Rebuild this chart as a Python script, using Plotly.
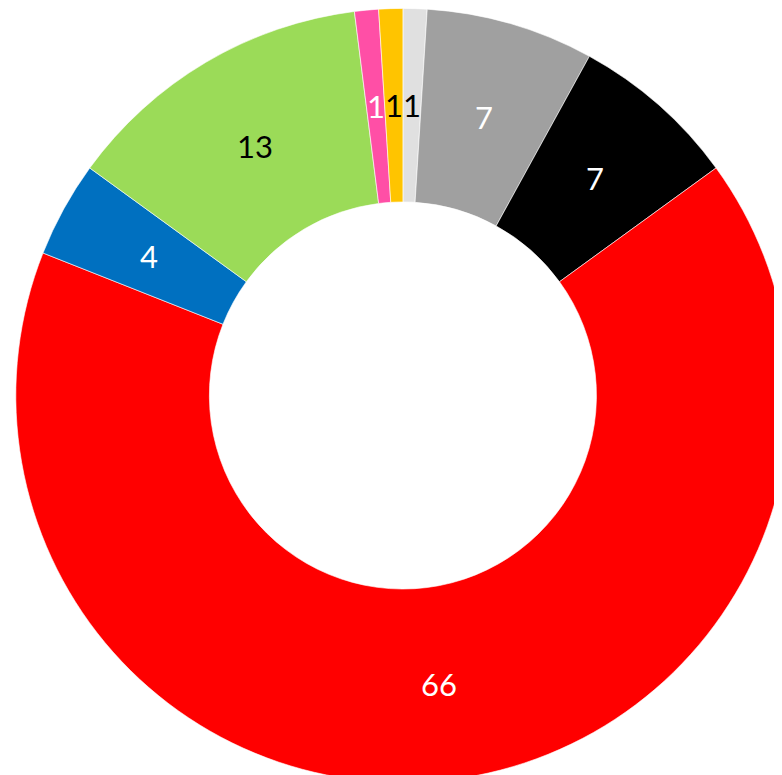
import math
import plotly.graph_objects as go

# 数据（顺时针，从12点方向开始）
labels = ['Light grey', 'Grey', 'Black', 'Red', 'Blue', 'Green', 'Pink', 'Orange']
values = [1, 7, 7, 66, 4, 13, 1, 1]
colors = ['#E0E0E0', '#A0A0A0', '#000000', '#FF0000', '#0070C0', '#9BDB58', '#FF4FA6', '#FFC400']
text_colors = ['black', 'white', 'white', 'white', 'white', 'black', 'white', 'black']

W, H = 782, 775
HOLE = 0.5
DOM_X = [0.01, 1.0]
DOM_Y = [0.0, 1.0]

fig = go.Figure()

fig.add_trace(
    go.Pie(
        labels=labels,
        values=values,
        hole=HOLE,
        sort=False,
        direction='clockwise',
        rotation=0,
        textinfo='none',
        marker=dict(colors=colors, line=dict(color='white', width=0.6)),
        domain=dict(x=DOM_X, y=DOM_Y),
        showlegend=False,
        hoverinfo='label+value',
    )
)

# 数值标签放在环的中线上
dom_w = (DOM_X[1] - DOM_X[0]) * W
dom_h = (DOM_Y[1] - DOM_Y[0]) * H
radius = min(dom_w, dom_h) / 2
cx = (DOM_X[0] + DOM_X[1]) / 2
cy = (DOM_Y[0] + DOM_Y[1]) / 2
r_mid = radius * (1 + HOLE) / 2
total = sum(values)
cum = 0
for v, c in zip(values, text_colors):
    ang = 2 * math.pi * (cum + v / 2) / total
    cum += v
    fig.add_annotation(
        x=cx + r_mid * math.sin(ang) / W,
        y=cy + r_mid * math.cos(ang) / H,
        xref='paper',
        yref='paper',
        xanchor='center',
        yanchor='middle',
        text=str(v),
        showarrow=False,
        font=dict(family='Lato, Open Sans, sans-serif', size=31, color=c),
    )

fig.update_layout(
    width=W,
    height=H,
    margin=dict(l=0, r=0, t=0, b=0),
    paper_bgcolor='white',
    plot_bgcolor='white',
    showlegend=False,
)

fig.write_html("out.html")
